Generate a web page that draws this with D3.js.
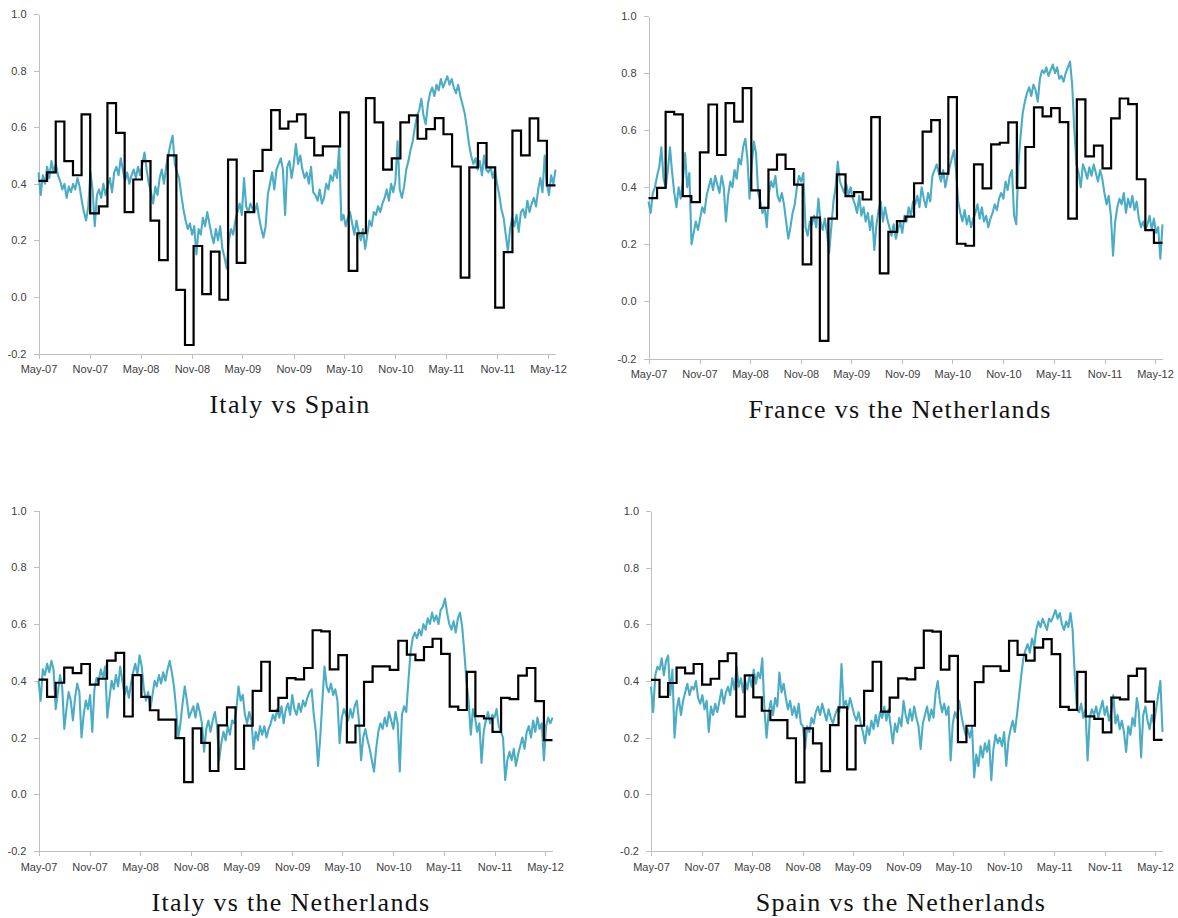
<!DOCTYPE html>
<html>
<head>
<meta charset="utf-8">
<script src="https://cdn.jsdelivr.net/npm/d3@7"></script>
<style>
  html, body { margin: 0; padding: 0; background: #fff; }
  svg { display: block; }
  .axis text { font-family: "Liberation Sans", Arial, sans-serif; font-size: 11px; fill: #404040; }
  .axis path, .axis line { stroke: #bfbfbf; stroke-width: 1; shape-rendering: crispEdges; }
  .title { font-family: "Liberation Serif", "Times New Roman", serif; font-size: 26px; letter-spacing: 1.3px; fill: #111; }
</style>
</head>
<body>
<svg id="chart" width="1178" height="918"></svg>
<script>
// x-axis tick months and y-axis tick values
const tickMonths = ["2007-05", "2007-11", "2008-05", "2008-11", "2009-05", "2009-11",
                    "2010-05", "2010-11", "2011-05", "2011-11", "2012-05"];
const yTickValues = [-0.2, 0.0, 0.2, 0.4, 0.6, 0.8, 1.0];

// monthly (step) correlation values, one per period
const italySpainMonthly = [
  0.41, 0.44, 0.62, 0.48, 0.43, 0.645, 0.295, 0.32, 0.685, 0.58,
  0.30, 0.415, 0.48, 0.27, 0.13, 0.50, 0.025, -0.17, 0.18, 0.01,
  0.16, -0.01, 0.485, 0.12, 0.30, 0.445, 0.52, 0.66, 0.595, 0.62,
  0.645, 0.562, 0.50, 0.532, 0.532, 0.652, 0.092, 0.225, 0.703, 0.617,
  0.45, 0.49, 0.617, 0.642, 0.559, 0.593, 0.632, 0.575, 0.461, 0.068,
  0.458, 0.544, 0.458, -0.038, 0.158, 0.588, 0.50, 0.631, 0.552, 0.394];

const franceNetherlandsMonthly = [
  0.362, 0.398, 0.664, 0.655, 0.369, 0.348, 0.522, 0.690, 0.513, 0.695,
  0.630, 0.747, 0.389, 0.328, 0.462, 0.514, 0.464, 0.409, 0.130, 0.294,
  -0.138, 0.290, 0.445, 0.369, 0.383, 0.357, 0.646, 0.098, 0.244, 0.281,
  0.297, 0.414, 0.595, 0.635, 0.448, 0.716, 0.202, 0.195, 0.480, 0.396,
  0.550, 0.556, 0.627, 0.398, 0.541, 0.680, 0.648, 0.677, 0.628, 0.290,
  0.708, 0.508, 0.546, 0.466, 0.641, 0.711, 0.691, 0.428, 0.250, 0.205];

const italyNetherlandsMonthly = [
  0.404, 0.343, 0.393, 0.446, 0.427, 0.459, 0.386, 0.407, 0.471, 0.498,
  0.274, 0.420, 0.343, 0.296, 0.263, 0.263, 0.198, 0.043, 0.232, 0.181,
  0.082, 0.243, 0.306, 0.089, 0.242, 0.364, 0.467, 0.294, 0.340, 0.409,
  0.405, 0.445, 0.578, 0.574, 0.440, 0.490, 0.183, 0.242, 0.396, 0.451,
  0.451, 0.438, 0.541, 0.492, 0.473, 0.519, 0.548, 0.495, 0.309, 0.297,
  0.431, 0.275, 0.267, 0.220, 0.340, 0.335, 0.418, 0.445, 0.328, 0.191];

const spainNetherlandsMonthly = [
  0.404, 0.344, 0.393, 0.447, 0.427, 0.460, 0.387, 0.408, 0.470, 0.498,
  0.274, 0.420, 0.342, 0.295, 0.262, 0.262, 0.198, 0.042, 0.233, 0.180,
  0.082, 0.244, 0.307, 0.088, 0.242, 0.365, 0.468, 0.292, 0.341, 0.409,
  0.406, 0.446, 0.578, 0.574, 0.440, 0.489, 0.184, 0.242, 0.396, 0.452,
  0.452, 0.436, 0.542, 0.492, 0.472, 0.518, 0.548, 0.495, 0.309, 0.298,
  0.432, 0.275, 0.266, 0.219, 0.341, 0.335, 0.418, 0.444, 0.327, 0.192];

// rolling (high-frequency) correlation values, evenly spaced in time
const italySpainRolling = [
  0.44,0.36,0.43,0.40, 0.46,0.42,0.48,0.44, 0.47,0.43,0.41,0.38, 0.40,0.35,0.39,0.37, 0.40,0.38,0.42,0.39,
  0.34,0.30,0.27,0.32, 0.44,0.38,0.25,0.36, 0.38,0.35,0.40,0.36, 0.39,0.42,0.37,0.44, 0.46,0.43,0.49,0.45,
  0.41,0.44,0.40,0.43, 0.45,0.42,0.46,0.43, 0.47,0.51,0.45,0.40, 0.37,0.33,0.39,0.36, 0.42,0.45,0.40,0.46,
  0.50,0.54,0.57,0.47, 0.44,0.42,0.36,0.31, 0.27,0.24,0.26,0.22, 0.25,0.15,0.24,0.22, 0.28,0.25,0.30,0.26,
  0.22,0.19,0.24,0.20, 0.25,0.17,0.14,0.10, 0.20,0.24,0.22,0.27, 0.30,0.33,0.29,0.42, 0.32,0.30,0.33,0.31,
  0.30,0.33,0.28,0.24, 0.21,0.25,0.36,0.40, 0.44,0.38,0.45,0.47, 0.49,0.45,0.29,0.46, 0.48,0.42,0.47,0.54,
  0.47,0.50,0.45,0.42, 0.44,0.40,0.46,0.37, 0.36,0.34,0.38,0.33, 0.35,0.40,0.38,0.43, 0.41,0.45,0.42,0.53,
  0.27,0.29,0.25,0.28, 0.30,0.26,0.22,0.27, 0.23,0.20,0.24,0.17, 0.22,0.27,0.25,0.30, 0.29,0.32,0.30,0.33,
  0.35,0.38,0.34,0.40, 0.37,0.41,0.55,0.38, 0.35,0.39,0.45,0.48, 0.52,0.55,0.60,0.64, 0.66,0.70,0.64,0.61,
  0.68,0.72,0.74,0.71, 0.75,0.73,0.77,0.74, 0.76,0.78,0.75,0.77, 0.74,0.72,0.75,0.71, 0.68,0.65,0.60,0.54,
  0.50,0.47,0.49,0.45, 0.48,0.43,0.50,0.45, 0.44,0.46,0.42,0.45, 0.40,0.36,0.31,0.28, 0.22,0.16,0.24,0.28,
  0.25,0.29,0.23,0.30, 0.31,0.28,0.34,0.30, 0.33,0.35,0.32,0.38, 0.42,0.37,0.50,0.40, 0.36,0.43,0.40,0.45];

const franceNetherlandsRolling = [
  0.35,0.31,0.38,0.40, 0.44,0.47,0.54,0.43, 0.40,0.46,0.54,0.45, 0.38,0.33,0.40,0.36, 0.42,0.52,0.40,0.45,
  0.20,0.24,0.28,0.25, 0.29,0.33,0.31,0.37, 0.40,0.43,0.39,0.44, 0.41,0.38,0.44,0.40, 0.28,0.37,0.42,0.40,
  0.46,0.43,0.50,0.48, 0.54,0.57,0.50,0.36, 0.48,0.56,0.52,0.38, 0.35,0.31,0.33,0.26, 0.38,0.42,0.40,0.44,
  0.37,0.35,0.38,0.34, 0.28,0.22,0.26,0.31, 0.34,0.40,0.44,0.42, 0.45,0.26,0.23,0.28, 0.27,0.30,0.26,0.36,
  0.28,0.25,0.29,0.24, 0.17,0.26,0.35,0.40, 0.49,0.42,0.40,0.38, 0.41,0.37,0.40,0.36, 0.34,0.31,0.37,0.30,
  0.33,0.28,0.31,0.25, 0.30,0.18,0.27,0.32, 0.35,0.28,0.33,0.29, 0.26,0.23,0.27,0.22, 0.25,0.28,0.24,0.30,
  0.28,0.33,0.30,0.35, 0.34,0.37,0.33,0.40, 0.36,0.33,0.38,0.35, 0.44,0.46,0.48,0.45, 0.42,0.46,0.40,0.44,
  0.47,0.50,0.53,0.46, 0.35,0.31,0.28,0.32, 0.27,0.30,0.26,0.29, 0.31,0.34,0.29,0.33, 0.28,0.30,0.26,0.29,
  0.31,0.34,0.32,0.36, 0.38,0.36,0.42,0.39, 0.44,0.46,0.30,0.27, 0.48,0.58,0.66,0.70, 0.73,0.75,0.72,0.76,
  0.74,0.70,0.78,0.81, 0.80,0.82,0.79,0.81, 0.83,0.80,0.82,0.78, 0.79,0.77,0.80,0.82, 0.84,0.76,0.60,0.48,
  0.45,0.40,0.48,0.46, 0.43,0.47,0.44,0.48, 0.45,0.42,0.46,0.43, 0.38,0.34,0.37,0.30, 0.16,0.28,0.33,0.36,
  0.34,0.38,0.31,0.36, 0.33,0.37,0.32,0.35, 0.29,0.26,0.28,0.25, 0.27,0.30,0.25,0.29, 0.24,0.26,0.15,0.27];

const italyNetherlandsRolling = [
  0.40,0.33,0.44,0.42, 0.46,0.43,0.47,0.44, 0.30,0.36,0.42,0.38, 0.23,0.30,0.36,0.33, 0.26,0.34,0.39,0.36,
  0.20,0.28,0.33,0.30, 0.35,0.22,0.37,0.41, 0.40,0.44,0.41,0.45, 0.27,0.34,0.40,0.37, 0.42,0.38,0.45,0.40,
  0.35,0.38,0.34,0.39, 0.43,0.46,0.42,0.49, 0.45,0.37,0.33,0.36, 0.30,0.35,0.40,0.38, 0.42,0.39,0.43,0.40,
  0.44,0.47,0.43,0.38, 0.30,0.20,0.25,0.32, 0.38,0.33,0.27,0.29, 0.31,0.27,0.32,0.29, 0.25,0.15,0.23,0.26,
  0.22,0.26,0.29,0.24, 0.12,0.18,0.22,0.19, 0.24,0.21,0.26,0.25, 0.30,0.38,0.33,0.35, 0.28,0.25,0.29,0.26,
  0.16,0.22,0.19,0.24, 0.21,0.24,0.20,0.23, 0.25,0.28,0.26,0.30, 0.27,0.31,0.25,0.30, 0.32,0.28,0.35,0.30,
  0.28,0.32,0.29,0.33, 0.31,0.34,0.36,0.37, 0.28,0.22,0.10,0.20, 0.33,0.45,0.38,0.36, 0.39,0.35,0.37,0.33,
  0.18,0.27,0.30,0.28, 0.26,0.30,0.27,0.31, 0.33,0.26,0.12,0.20, 0.23,0.19,0.16,0.12, 0.08,0.16,0.22,0.25,
  0.23,0.27,0.24,0.29, 0.26,0.23,0.29,0.25, 0.08,0.28,0.31,0.29, 0.40,0.50,0.55,0.57, 0.55,0.58,0.56,0.60,
  0.58,0.62,0.60,0.64, 0.61,0.63,0.60,0.65, 0.66,0.69,0.64,0.60, 0.58,0.61,0.57,0.62, 0.64,0.59,0.50,0.40,
  0.33,0.21,0.30,0.27, 0.22,0.25,0.11,0.22, 0.26,0.29,0.25,0.28, 0.27,0.30,0.24,0.22, 0.20,0.05,0.12,0.15,
  0.12,0.16,0.10,0.14, 0.17,0.20,0.16,0.22, 0.24,0.20,0.26,0.22, 0.27,0.23,0.25,0.12, 0.24,0.27,0.25,0.27];

const spainNetherlandsRolling = [
  0.38,0.29,0.42,0.45, 0.44,0.48,0.42,0.47, 0.49,0.35,0.44,0.20, 0.30,0.34,0.28,0.33, 0.36,0.39,0.35,0.38,
  0.37,0.40,0.34,0.32, 0.35,0.30,0.33,0.22, 0.31,0.28,0.32,0.29, 0.33,0.37,0.32,0.36, 0.38,0.35,0.41,0.37,
  0.45,0.38,0.41,0.36, 0.40,0.37,0.42,0.38, 0.44,0.39,0.43,0.41, 0.48,0.30,0.20,0.29, 0.33,0.28,0.34,0.31,
  0.43,0.36,0.39,0.34, 0.30,0.33,0.28,0.31, 0.27,0.32,0.25,0.24, 0.16,0.24,0.22,0.27, 0.25,0.29,0.31,0.28,
  0.32,0.29,0.26,0.30, 0.27,0.25,0.28,0.30, 0.29,0.46,0.31,0.33, 0.30,0.34,0.31,0.28, 0.26,0.29,0.25,0.22,
  0.18,0.24,0.21,0.26, 0.23,0.28,0.24,0.29, 0.27,0.31,0.26,0.30, 0.24,0.18,0.25,0.22, 0.27,0.24,0.33,0.28,
  0.25,0.30,0.26,0.31, 0.27,0.24,0.16,0.25, 0.28,0.31,0.26,0.30, 0.27,0.36,0.40,0.33, 0.29,0.32,0.28,0.31,
  0.12,0.25,0.29,0.27, 0.33,0.28,0.24,0.21, 0.23,0.20,0.24,0.06, 0.14,0.10,0.17,0.13, 0.18,0.15,0.19,0.05,
  0.16,0.21,0.18,0.20, 0.17,0.22,0.10,0.19, 0.23,0.26,0.22,0.28, 0.35,0.42,0.48,0.51, 0.53,0.50,0.55,0.52,
  0.58,0.61,0.59,0.62, 0.60,0.58,0.62,0.61, 0.63,0.65,0.62,0.64, 0.60,0.58,0.61,0.59, 0.64,0.58,0.42,0.30,
  0.29,0.32,0.27,0.30, 0.12,0.27,0.30,0.28, 0.31,0.27,0.30,0.33, 0.28,0.31,0.26,0.29, 0.35,0.25,0.28,0.23,
  0.26,0.22,0.15,0.24, 0.21,0.27,0.24,0.34, 0.29,0.13,0.28,0.31, 0.26,0.23,0.28,0.25, 0.30,0.35,0.40,0.22];

const panelTitles = ["Italy vs Spain", "France vs the Netherlands",
                     "Italy vs the Netherlands", "Spain vs the Netherlands"];

// sample period covered by both series
const startDate = new Date(2007, 4, 1);
const endDate = new Date(2012, 4, 28);

// panel frames (pixel layout)
const panels = [
  { left: 38.5,  right: 555.5,  top: 14,    bottom: 353.5, titleX: 290, titleY: 413,
    monthly: italySpainMonthly, rolling: italySpainRolling, title: panelTitles[0] },
  { left: 648.5, right: 1162.5, top: 16,    bottom: 358.5, titleX: 900, titleY: 418,
    monthly: franceNetherlandsMonthly, rolling: franceNetherlandsRolling, title: panelTitles[1] },
  { left: 38.5,  right: 552.5,  top: 510.5, bottom: 851,   titleX: 291, titleY: 911,
    monthly: italyNetherlandsMonthly, rolling: italyNetherlandsRolling, title: panelTitles[2] },
  { left: 651,   right: 1162.5, top: 511,   bottom: 851,   titleX: 901, titleY: 911,
    monthly: spainNetherlandsMonthly, rolling: spainNetherlandsRolling, title: panelTitles[3] }
];

const svg = d3.select("#chart");
const parseMonth = d3.timeParse("%Y-%m");
const tickDates = tickMonths.map(parseMonth);
const fmtY = d3.formatLocale({ decimal: ".", thousands: ",", grouping: [3], currency: ["", ""], minus: "-" }).format(".1f");
const fmtX = d3.timeFormat("%b-%y");
const span = endDate - startDate;

panels.forEach(p => {
  const x = d3.scaleTime().domain([startDate, endDate]).range([p.left, p.right]);
  const y = d3.scaleLinear().domain([-0.2, 1.0]).range([p.bottom, p.top]);
  const g = svg.append("g");

  g.append("g")
    .attr("class", "axis")
    .attr("transform", `translate(0,${p.bottom})`)
    .call(d3.axisBottom(x).tickValues(tickDates).tickFormat(fmtX).tickSize(5).tickSizeOuter(0).tickPadding(7));

  g.append("g")
    .attr("class", "axis")
    .attr("transform", `translate(${p.left},0)`)
    .call(d3.axisLeft(y).tickValues(yTickValues).tickFormat(fmtY).tickSize(5).tickSizeOuter(0).tickPadding(7));

  // rolling series, evenly spaced over the sample
  const n = p.rolling.length;
  const rollingPts = p.rolling.map((v, i) => ({ t: new Date(+startDate + i * span / (n - 1)), v }));
  g.append("path")
    .datum(rollingPts)
    .attr("fill", "none")
    .attr("stroke", "#4bacc6")
    .attr("stroke-width", 2.1)
    .attr("stroke-linejoin", "round")
    .attr("d", d3.line().x(d => x(d.t)).y(d => y(d.v)));

  // monthly series as steps over equal periods
  const m = p.monthly.length;
  const stepPts = p.monthly.map((v, i) => ({ t: new Date(+startDate + i * span / m), v }));
  stepPts.push({ t: endDate, v: p.monthly[m - 1] });
  g.append("path")
    .datum(stepPts)
    .attr("fill", "none")
    .attr("stroke", "#000")
    .attr("stroke-width", 2.2)
    .attr("stroke-linejoin", "miter")
    .attr("d", d3.line().curve(d3.curveStepAfter).x(d => x(d.t)).y(d => y(d.v)));

  g.append("text")
    .attr("class", "title")
    .attr("x", p.titleX)
    .attr("y", p.titleY)
    .attr("text-anchor", "middle")
    .text(p.title);
});
</script>
</body>
</html>
